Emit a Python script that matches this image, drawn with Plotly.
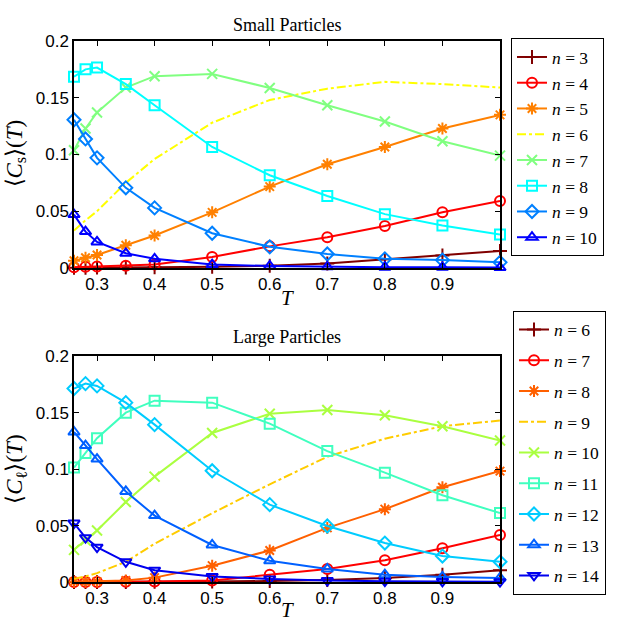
import plotly.graph_objects as go

T = [0.26, 0.28, 0.3, 0.35, 0.4, 0.5, 0.6, 0.7, 0.8, 0.9, 1.0]

# Small particles
small_n = [3, 4, 5, 6, 7, 8, 9, 10]
s3 = [0.0002, 0.0002, 0.0003, 0.0004, 0.0005, 0.001, 0.002, 0.004, 0.0077, 0.011, 0.0149]
s4 = [0.0006, 0.001, 0.0012, 0.002, 0.003, 0.0097, 0.019, 0.027, 0.037, 0.049, 0.0589]
s5 = [0.0063, 0.009, 0.0114, 0.020, 0.0286, 0.049, 0.0717, 0.0914, 0.1066, 0.1229, 0.1349]
s6 = [0.033, 0.042, 0.050, 0.075, 0.096, 0.128, 0.148, 0.158, 0.164, 0.162, 0.159]
s7 = [0.1037, 0.1229, 0.137, 0.159, 0.169, 0.171, 0.1586, 0.1434, 0.129, 0.1117, 0.099]
s8 = [0.1686, 0.175, 0.1766, 0.162, 0.1434, 0.1066, 0.0817, 0.0634, 0.0474, 0.0374, 0.0294]
s9 = [0.1306, 0.1137, 0.097, 0.0706, 0.0529, 0.0306, 0.0186, 0.0123, 0.008, 0.0069, 0.0049]
s10 = [0.047, 0.032, 0.0229, 0.0129, 0.008, 0.003, 0.0017, 0.001, 0.0006, 0.0005, 0.0003]
small_vals = [s3, s4, s5, s6, s7, s8, s9, s10]
small_colors = ["#800000", "#ff0000", "#ff8000", "#ffff00", "#80ff80", "#00ffff", "#0080ff", "#0000ff"]
small_symbols = ["cross-thin-open", "circle-open", "asterisk-open", None, "x-thin-open",
                 "square-open", "diamond-open", "triangle-up-open"]

# Large particles
large_n = [6, 7, 8, 9, 10, 11, 12, 13, 14]
l6 = [0.0001, 0.0001, 0.0001, 0.0002, 0.0003, 0.0006, 0.001, 0.002, 0.0037, 0.0066, 0.0106]
l7 = [0.0002, 0.0002, 0.0002, 0.0003, 0.0005, 0.0014, 0.0066, 0.0117, 0.0194, 0.030, 0.0417]
l8 = [0.0003, 0.0004, 0.0005, 0.0014, 0.004, 0.0146, 0.028, 0.048, 0.0646, 0.084, 0.0983]
l9 = [0.003, 0.005, 0.008, 0.018, 0.034, 0.061, 0.0866, 0.111, 0.127, 0.138, 0.143]
l10 = [0.0286, 0.037, 0.0457, 0.0709, 0.0934, 0.132, 0.149, 0.1523, 0.1477, 0.138, 0.1254]
l11 = [0.1014, 0.1143, 0.1274, 0.150, 0.1606, 0.1589, 0.1403, 0.116, 0.0969, 0.0769, 0.0611]
l12 = [0.1714, 0.1757, 0.1737, 0.1589, 0.1394, 0.0986, 0.0686, 0.0497, 0.0346, 0.0231, 0.018]
l13 = [0.1329, 0.1209, 0.1089, 0.0803, 0.0589, 0.0329, 0.0189, 0.0117, 0.0066, 0.0046, 0.0037]
l14 = [0.0523, 0.0394, 0.031, 0.018, 0.0106, 0.0051, 0.0029, 0.0014, 0.0009, 0.0006, 0.0004]
large_vals = [l6, l7, l8, l9, l10, l11, l12, l13, l14]
large_colors = ["#800000", "#ff0000", "#ff6000", "#ffcc00", "#aaff40", "#40ffbf", "#00ccff", "#0060ff", "#0000ee"]
large_symbols = ["cross-thin-open", "circle-open", "asterisk-open", None, "x-thin-open",
                 "square-open", "diamond-open", "triangle-up-open", "triangle-down-open"]

xticks = [0.3, 0.4, 0.5, 0.6, 0.7, 0.8, 0.9]
yticks = [0, 0.05, 0.1, 0.15, 0.2]
yticktext = ["0", "0.05", "0.1", "0.15", "0.2"]

W, H = 620, 629
fig = go.Figure()

def add_series(ns, vals, colors, symbols, xa, ya, legend, grp):
    for n, v, c, s in zip(ns, vals, colors, symbols):
        if s is None:
            fig.add_trace(go.Scatter(
                x=T, y=v, mode="lines", name=f"<i>n</i> = {n}",
                line=dict(color=c, width=2, dash="dashdot"),
                xaxis=xa, yaxis=ya, legend=legend, legendgroup=f"{grp}{n}",
                cliponaxis=False))
        else:
            fig.add_trace(go.Scatter(
                x=T, y=v, mode="lines+markers", name=f"<i>n</i> = {n}",
                line=dict(color=c, width=2),
                marker=dict(symbol=s, size=10, color=c, line=dict(color=c, width=2)),
                xaxis=xa, yaxis=ya, legend=legend, legendgroup=f"{grp}{n}",
                cliponaxis=False))

add_series(small_n, small_vals, small_colors, small_symbols, "x", "y", "legend", "s")
add_series(large_n, large_vals, large_colors, large_symbols, "x2", "y2", "legend2", "l")

xdom = [74 / W, 500 / W]
top_dom = [1 - 267 / H, 1 - 33 / H]
bot_dom = [1 - 591 / H, 1 - 358 / H]

axis_common = dict(showline=True, linecolor="black", linewidth=1.5, mirror="allticks",
                   ticks="inside", ticklen=5, tickcolor="black", showgrid=False, zeroline=False,
                   tickfont=dict(family="Liberation Sans, Arial", size=17, color="black"))

legend_font = dict(family="Liberation Serif, serif", size=17.5, color="black")
fig.update_layout(
    width=W, height=H, margin=dict(l=0, r=0, t=0, b=0),
    plot_bgcolor="white", paper_bgcolor="white",
    xaxis=dict(domain=xdom, range=[0.26, 1.0], tickvals=xticks, anchor="y", **axis_common),
    yaxis=dict(domain=top_dom, range=[0, 0.2], tickvals=yticks, ticktext=yticktext, anchor="x", **axis_common),
    xaxis2=dict(domain=xdom, range=[0.26, 1.0], tickvals=xticks, anchor="y2", **axis_common),
    yaxis2=dict(domain=bot_dom, range=[0, 0.2], tickvals=yticks, ticktext=yticktext, anchor="x2", **axis_common),
    legend=dict(x=511 / W, y=1 - 30 / H, xanchor="left", yanchor="top",
                bordercolor="black", borderwidth=1, bgcolor="white",
                font=legend_font, tracegroupgap=0, itemwidth=30),
    legend2=dict(x=513 / W, y=1 - 311 / H, xanchor="left", yanchor="top",
                 bordercolor="black", borderwidth=1, bgcolor="white",
                 font=legend_font, tracegroupgap=5, itemwidth=30),
    showlegend=True,
)

serif = dict(family="Liberation Serif, serif", color="black")
ann = [
    dict(text="Small Particles", x=287 / W, y=1 - 16 / H, size=18),
    dict(text="Large Particles", x=287 / W, y=1 - 338 / H, size=18),
    dict(text="<i>T</i>", x=287 / W, y=1 - 298 / H, size=21),
    dict(text="<i>T</i>", x=287 / W, y=1 - 620 / H, size=21),
]
for a in ann:
    fig.add_annotation(text=a["text"], x=a["x"], y=a["y"], xref="paper", yref="paper",
                       showarrow=False, xanchor="center", yanchor="middle",
                       font=dict(size=a["size"], **serif))
fig.add_annotation(text="⟨<i>C</i><sub>s</sub>⟩(<i>T</i>)", x=16 / W, y=1 - 149 / H,
                   xref="paper", yref="paper", showarrow=False, textangle=-90,
                   xanchor="center", yanchor="middle", font=dict(size=23, **serif))
fig.add_annotation(text="⟨<i>C</i><sub>ℓ</sub>⟩(<i>T</i>)", x=16 / W, y=1 - 475 / H,
                   xref="paper", yref="paper", showarrow=False, textangle=-90,
                   xanchor="center", yanchor="middle", font=dict(size=23, **serif))

fig.write_html("out.html")
